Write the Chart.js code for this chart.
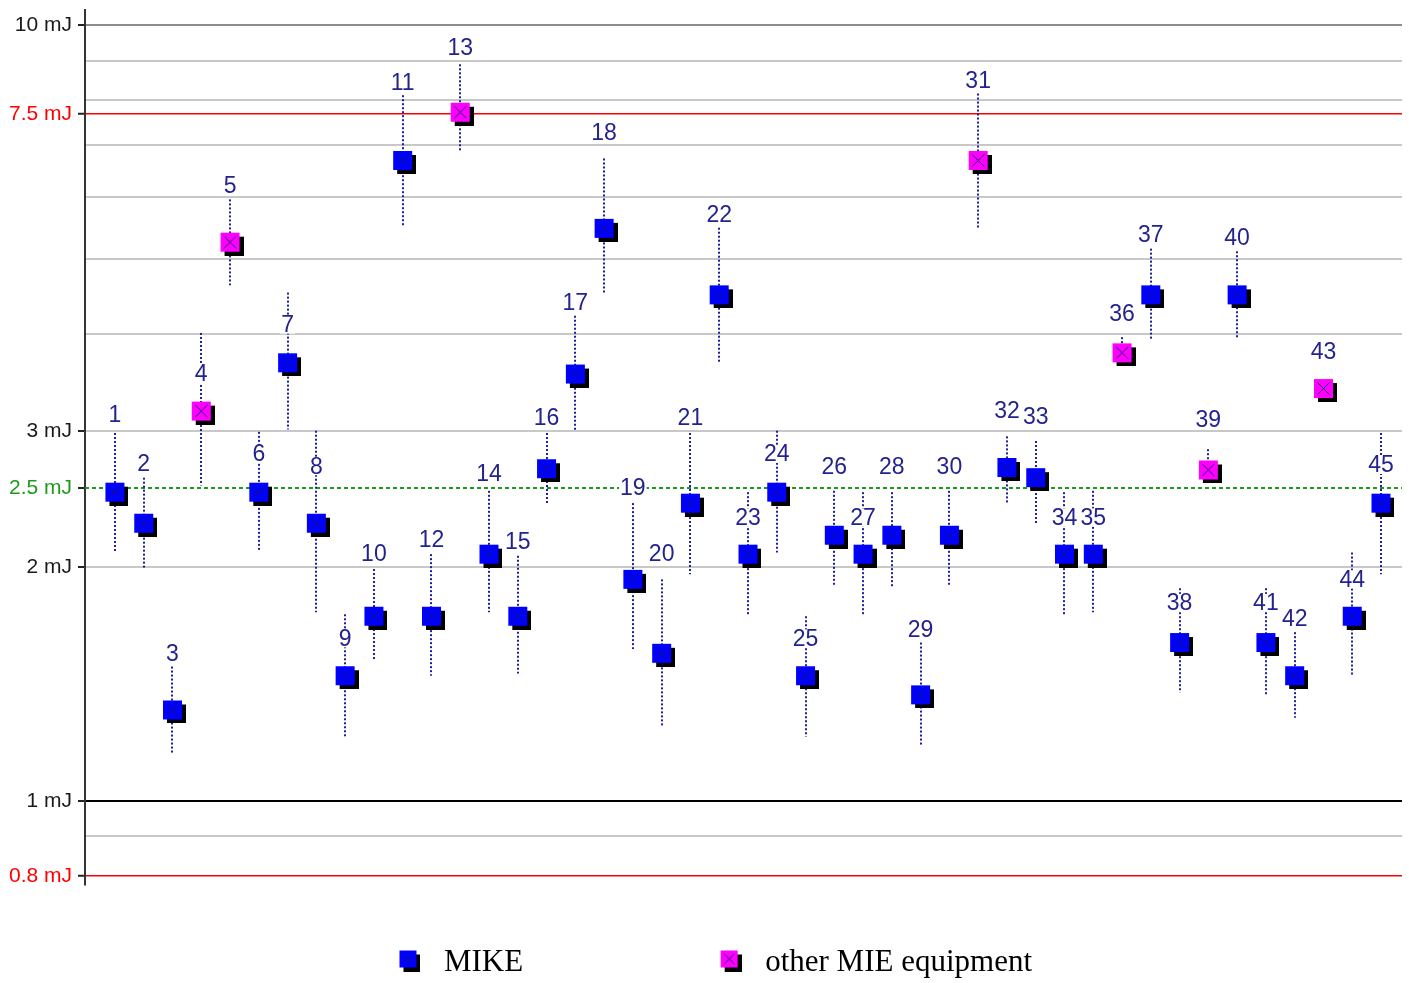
<!DOCTYPE html>
<html>
<head>
<meta charset="utf-8">
<title>MIE results</title>
<script src="https://cdn.jsdelivr.net/npm/chart.js@4.4.1/dist/chart.umd.min.js"></script>
<style>
    html, body { margin: 0; padding: 0; background: #fff; }
    #wrap { width: 1409px; height: 983px; position: relative; }
</style>
</head>
<body>
<div id="wrap"><canvas id="mieChart"></canvas></div>
<script>
'use strict';

// shot number of every test
var shots = [1, 2, 3, 4, 5, 6, 7, 8, 9, 10, 11, 12, 13, 14, 15, 16, 17, 18, 19, 20,
    21, 22, 23, 24, 25, 26, 27, 28, 29, 30, 31, 32, 33, 34, 35, 36, 37, 38, 39, 40,
    41, 42, 43, 44, 45];

// ignition energy (mJ)
var energy = [2.50, 2.28, 1.31, 3.18, 5.25, 2.50, 3.67, 2.28, 1.45, 1.73,
    6.69, 1.73, 7.72, 2.08, 1.73, 2.68, 3.55, 5.47, 1.93, 1.55,
    2.42, 4.49, 2.08, 2.50, 1.45, 2.20, 2.08, 2.20, 1.37, 2.20,
    6.69, 2.69, 2.61, 2.08, 2.08, 3.78, 4.49, 1.60, 2.67, 4.49,
    1.60, 1.45, 3.40, 1.73, 2.42];

// spread of each result (top and bottom of the dotted line, mJ)
var upper = [2.98, 2.61, 1.49, 4.01, 5.96, 2.99, 4.52, 3.00, 1.74, 1.99,
    8.12, 2.08, 8.90, 2.51, 2.07, 2.98, 4.22, 6.73, 2.42, 1.93,
    2.98, 5.48, 2.50, 3.00, 1.73, 2.51, 2.50, 2.50, 1.60, 2.51,
    8.16, 2.95, 2.91, 2.50, 2.51, 3.96, 5.15, 1.88, 2.84, 5.11,
    1.88, 1.65, 3.45, 2.09, 2.98];
var lower = [2.10, 1.99, 1.15, 2.55, 4.62, 2.10, 3.01, 1.75, 1.21, 1.52,
    5.52, 1.45, 6.87, 1.75, 1.46, 2.42, 3.00, 4.51, 1.57, 1.25,
    1.96, 3.68, 1.74, 2.09, 1.21, 1.90, 1.74, 1.89, 1.18, 1.90,
    5.48, 2.42, 2.28, 1.74, 1.75, 3.65, 3.93, 1.38, 2.59, 3.96,
    1.37, 1.28, 3.35, 1.45, 1.96];

// shots done on other MIE equipment, the rest are MIKE
var otherShots = [4, 5, 13, 31, 36, 39, 43];

var legendLabels = ['MIKE', 'other MIE equipment'];

// y axis ticks (the 7.5 and 2.5 limit lines sit where the source draws them)
var tickValues = [0.8, 0.9, 1, 2, 2.53, 3, 4, 5, 6, 7, 7.68, 8, 9, 10];
var tickLabels = ['0.8 mJ', '', '1 mJ', '2 mJ', '2.5 mJ', '3 mJ', '', '', '', '', '7.5 mJ', '', '', '10 mJ'];

// ---- layout only: height (mJ) at which each shot number is written
var labelLevel = [3.15, 2.72, 1.55, 3.55, 6.21, 2.80, 4.11, 2.70, 1.62, 2.08,
    8.44, 2.17, 9.36, 2.64, 2.16, 3.12, 4.39, 7.27, 2.53, 2.08,
    3.12, 5.70, 2.32, 2.80, 1.62, 2.70, 2.32, 2.70, 1.66, 2.70,
    8.49, 3.18, 3.13, 2.32, 2.32, 4.24, 5.37, 1.80, 3.10, 5.32,
    1.80, 1.72, 3.79, 1.93, 2.71];

var BLUE = '#0000ff';
var MAGENTA = '#ff00ff';
var RED = '#ff0000';
var GREEN = '#1e9a1e';
var NAVY = '#23238e';

function makeMarker(fill, size, shadow) {
    var c = document.createElement('canvas');
    var full = size + 2 * shadow;
    c.width = full;
    c.height = full;
    var g = c.getContext('2d');
    g.fillStyle = '#000';
    g.fillRect(2 * shadow, 2 * shadow, size, size);
    g.fillStyle = fill;
    g.fillRect(shadow, shadow, size, size);
    g.strokeStyle = '#14146e';
    g.lineWidth = 1;
    var a = shadow + 3.5, b = shadow + size - 3.5;
    g.beginPath();
    g.moveTo(a, a); g.lineTo(b, b);
    g.moveTo(b, a); g.lineTo(a, b);
    g.stroke();
    return c;
}

var mikeMarker = makeMarker(BLUE, 19, 4);
var otherMarker = makeMarker(MAGENTA, 19, 4);
var legendMarkers = [makeMarker(BLUE, 17, 4), makeMarker(MAGENTA, 17, 4)];

var mikeData = [], otherData = [];
shots.forEach(function (s, i) {
    var pt = {x: s, y: energy[i]};
    if (otherShots.indexOf(s) >= 0) otherData.push(pt); else mikeData.push(pt);
});

function gridColor(i) {
    var lbl = tickLabels[i];
    if (lbl === '10 mJ') return '#8c8c8c';
    if (lbl === '7.5 mJ' || lbl === '0.8 mJ') return RED;
    if (lbl === '1 mJ') return '#000';
    if (lbl === '2.5 mJ') return 'rgba(0,0,0,0)';
    return '#c8c8c8';
}

function labelColor(i) {
    var lbl = tickLabels[i];
    if (lbl === '7.5 mJ' || lbl === '0.8 mJ') return RED;
    if (lbl === '2.5 mJ') return GREEN;
    return '#1a1a1a';
}

var shotPlugin = {
    id: 'shotMarks',
    beforeDatasetsDraw: function (chart) {
        var ctx = chart.ctx, xs = chart.scales.x, ys = chart.scales.y, area = chart.chartArea;
        ctx.save();

        // dashed 2.5 mJ line
        var gy = Math.round(ys.getPixelForValue(tickValues[tickLabels.indexOf('2.5 mJ')]));
        ctx.strokeStyle = GREEN;
        ctx.lineWidth = 2;
        ctx.setLineDash([4, 3]);
        ctx.beginPath();
        ctx.moveTo(area.left, gy);
        ctx.lineTo(area.right, gy);
        ctx.stroke();

        // dotted spread lines
        ctx.strokeStyle = '#20209a';
        ctx.lineWidth = 2;
        ctx.setLineDash([2, 2]);
        shots.forEach(function (s, i) {
            var px = Math.round(xs.getPixelForValue(s));
            ctx.beginPath();
            ctx.moveTo(px, ys.getPixelForValue(upper[i]));
            ctx.lineTo(px, ys.getPixelForValue(lower[i]));
            ctx.stroke();
        });

        // shot numbers
        ctx.setLineDash([]);
        ctx.font = '23px "Liberation Sans", Arial, sans-serif';
        ctx.textAlign = 'center';
        ctx.textBaseline = 'middle';
        shots.forEach(function (s, i) {
            var txt = String(s);
            var px = xs.getPixelForValue(s);
            var py = ys.getPixelForValue(labelLevel[i]);
            var w = ctx.measureText(txt).width;
            ctx.fillStyle = '#fff';
            ctx.fillRect(px - w / 2 - 1, py - 9, w + 2, 18);
            ctx.fillStyle = NAVY;
            ctx.fillText(txt, px, py + 1);
        });
        ctx.restore();
    },
    afterDraw: function (chart) {
        var ctx = chart.ctx, area = chart.chartArea;
        ctx.save();
        ctx.font = '31px "Liberation Serif", "Times New Roman", serif';
        ctx.textBaseline = 'middle';
        ctx.textAlign = 'left';
        ctx.fillStyle = '#000';
        var gap = 191;
        var widths = legendLabels.map(function (t) { return ctx.measureText(t).width; });
        var total = 51 * 2 + widths[0] + gap + widths[1];
        var x = area.left + (area.width - total) / 2 - 31;
        var cy = area.bottom + 78;
        legendLabels.forEach(function (t, i) {
            var m = legendMarkers[i];
            ctx.drawImage(m, x + 15 - m.width / 2, cy - 4 - m.height / 2);
            ctx.fillText(t, x + 51, cy);
            x += 51 + widths[i] + gap;
        });
        ctx.restore();
    }
};

new Chart(document.getElementById('mieChart'), {
    type: 'scatter',
    data: {
        datasets: [{
            label: legendLabels[0],
            data: mikeData,
            pointStyle: mikeMarker
        }, {
            label: legendLabels[1],
            data: otherData,
            pointStyle: otherMarker
        }]
    },
    options: {
        responsive: true,
        maintainAspectRatio: false,
        animation: false,
        events: [],
        layout: {
            padding: {top: 10, right: 7, bottom: 98, left: 0}
        },
        plugins: {
            legend: {display: false},
            tooltip: {enabled: false}
        },
        scales: {
            x: {
                type: 'linear',
                min: -0.04,
                max: 45.73,
                display: false
            },
            y: {
                type: 'logarithmic',
                min: 0.7792,
                max: 10.456,
                afterBuildTicks: function (scale) {
                    scale.ticks = tickValues.map(function (v) { return {value: v}; });
                },
                afterFit: function (scale) {
                    scale.width = 85;
                    scale.paddingTop = 0;
                    scale.paddingBottom = 0;
                },
                ticks: {
                    autoSkip: false,
                    padding: 6,
                    font: {family: '"Liberation Sans", Arial, sans-serif', size: 21, lineHeight: 1},
                    color: function (c) { return labelColor(c.index); },
                    callback: function (v, i) { return tickLabels[i]; }
                },
                grid: {
                    color: function (c) { return gridColor(c.index); },
                    lineWidth: function (c) {
                        var lbl = tickLabels[c.index];
                        return (lbl === '7.5 mJ' || lbl === '0.8 mJ') ? 1.5 : 2;
                    },
                    tickLength: 7,
                    tickColor: function (c) { return tickLabels[c.index] ? '#222' : 'rgba(0,0,0,0)'; },
                    tickWidth: 2
                },
                border: {color: '#333', width: 2}
            }
        }
    },
    plugins: [shotPlugin]
});
</script>
</body>
</html>
